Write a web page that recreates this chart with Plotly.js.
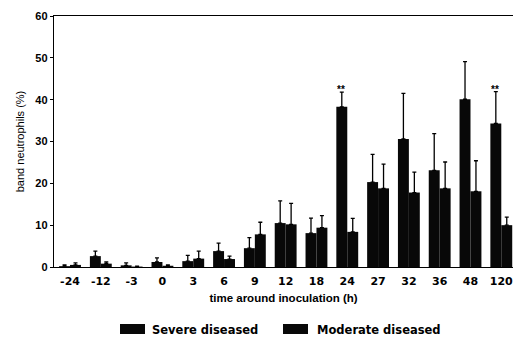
<!DOCTYPE html>
<html><head><meta charset="utf-8">
<script src="https://cdn.plot.ly/plotly-3.0.1.min.js"></script>
<style>html,body{margin:0;padding:0;background:#fff}#chart{width:513px;height:339px}</style>
</head><body><div id="chart"></div>
<script>
const timeLabels = ["-24","-12","-3","0","3","6","9","12","18","24","27","32","36","48","120"];
const severeVals = [0.2, 2.6, 0.4, 1.2, 1.4, 3.8, 4.5, 10.5, 8.1, 38.3, 20.3, 30.6, 23.1, 40.1, 34.3];
const severeErr  = [0.3, 1.2, 0.6, 1.0, 1.4, 1.9, 2.5, 5.3, 3.6, 3.5, 6.6, 10.9, 8.8, 9.0, 7.6];
const moderateVals = [0.5, 0.8, 0.1, 0.3, 2.0, 1.9, 7.8, 10.2, 9.4, 8.4, 18.8, 17.8, 18.8, 18.1, 10.0];
const moderateErr  = [0.5, 0.4, 0.1, 0.2, 1.8, 0.7, 2.9, 5.0, 2.9, 3.2, 5.8, 4.9, 6.3, 7.3, 1.9];
const seriesNames = ["Severe diseased", "Moderate diseased"];
const sigIdx = [9, 14];
const sigLabel = "**";

const idx = timeLabels.map((_, i) => i);
const zeros = idx.map(() => 0);
const ARIAL = "Liberation Sans, Arial, sans-serif";
const DEJAVU = "DejaVu Sans, sans-serif";

const traces = [
  {type: "bar", name: seriesNames[0], x: idx, y: severeVals, showlegend: false,
   marker: {color: "#080808"},
   error_y: {type: "data", array: severeErr, arrayminus: zeros, symmetric: false, color: "#000", thickness: 1.3, width: 2}},
  {type: "bar", name: seriesNames[1], x: idx, y: moderateVals, showlegend: false,
   marker: {color: "#080808"},
   error_y: {type: "data", array: moderateErr, arrayminus: zeros, symmetric: false, color: "#000", thickness: 1.3, width: 2}}
];

// plot area in pixels: x 54..513, y 16..267
const px = v => (v - 54) / 459;
const py = v => (267 - v) / 251;

const annotations = sigIdx.map(i => ({
  x: i - 0.2, y: severeVals[i] + severeErr[i], xref: "x", yref: "y",
  text: sigLabel, showarrow: false, yanchor: "bottom", yshift: -5,
  font: {family: ARIAL, size: 10, color: "#000000", weight: "bold"}
}));

// legend drawn as swatches + labels below the axis
const legendX = [[120, 145, 150], [283, 308, 315]];
const shapes = [];
seriesNames.forEach((n, k) => {
  shapes.push({type: "rect", xref: "paper", yref: "paper",
    x0: px(legendX[k][0]), x1: px(legendX[k][1]), y0: py(334), y1: py(324),
    fillcolor: "#080808", line: {width: 0}});
  annotations.push({xref: "paper", yref: "paper", x: px(legendX[k][2]), y: py(329.5),
    xanchor: "left", yanchor: "middle", showarrow: false, text: n,
    font: {family: DEJAVU, size: 11.5, color: "#000", weight: "bold"}});
});

const layout = {
  width: 513, height: 339,
  margin: {l: 54, r: 0, t: 16, b: 72},
  paper_bgcolor: "#fff", plot_bgcolor: "#fff",
  barmode: "group", bargap: 0.29, bargroupgap: 0,
  showlegend: false,
  xaxis: {
    range: [-0.52, 14.38], tickmode: "array", tickvals: idx, ticktext: timeLabels,
    showline: true, linecolor: "#000", linewidth: 1.2, mirror: true,
    ticks: "", showgrid: false, zeroline: false, ticklabelstandoff: 4,
    ticklabeloverflow: "allow",
    tickfont: {family: DEJAVU, size: 11, color: "#000", weight: "bold"},
    title: {text: "time around inoculation (h)", standoff: 6, font: {family: ARIAL, size: 11.5, color: "#000", weight: "bold"}}
  },
  yaxis: {
    range: [0, 60], tickvals: [0,10,20,30,40,50,60],
    showline: true, linecolor: "#000", linewidth: 1.2,
    ticks: "outside", ticklen: 3, tickcolor: "#000",
    showgrid: false, zeroline: false,
    tickfont: {family: ARIAL, size: 11, color: "#000", weight: "bold"},
    title: {text: "band neutrophils (%)", standoff: 8, font: {family: ARIAL, size: 11, color: "#000"}}
  },
  shapes: shapes,
  annotations: annotations
};

Plotly.newPlot("chart", traces, layout, {displayModeBar: false, staticPlot: true});
</script></body></html>
